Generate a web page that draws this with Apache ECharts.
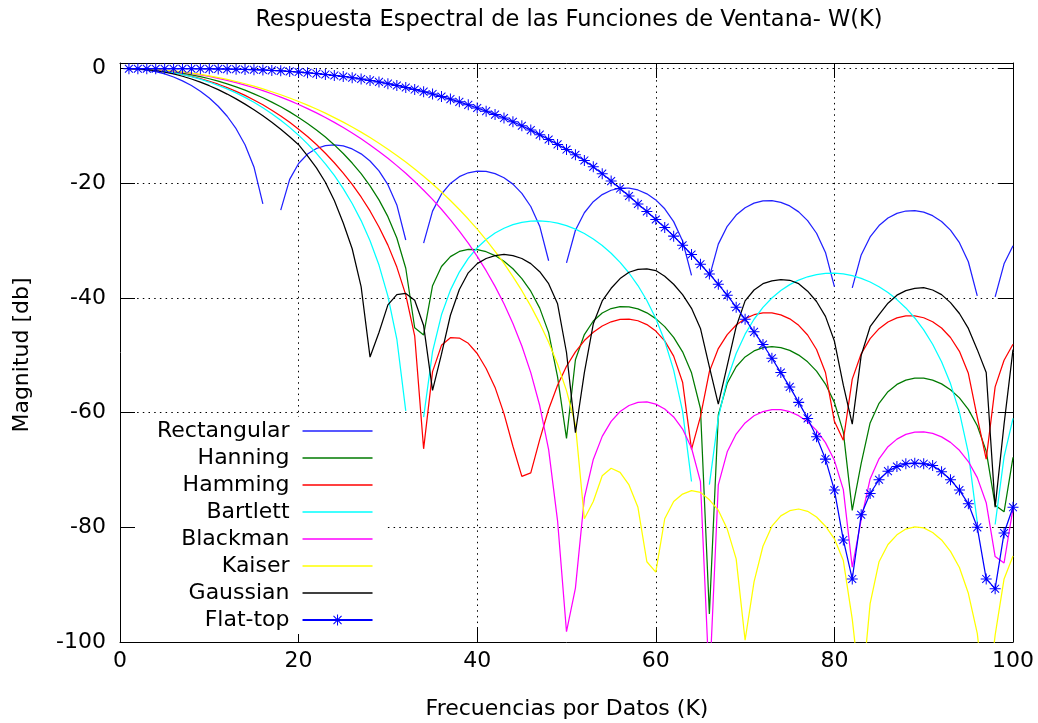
<!DOCTYPE html>
<html>
<head>
<meta charset="utf-8">
<script src="https://cdn.jsdelivr.net/npm/echarts@6/dist/echarts.min.js"></script>
<style>
  html, body { margin: 0; padding: 0; background: #fff; }
  #chart { width: 1038px; height: 723px; }
</style>
</head>
<body>
<div id="chart"></div>
<script>
// Frequency bins K (x axis)
const K = [
  1, 2, 3, 4, 5, 6, 7, 8, 9, 10,
  11, 12, 13, 14, 15, 16, 17, 18, 19, 20,
  21, 22, 23, 24, 25, 26, 27, 28, 29, 30,
  31, 32, 33, 34, 35, 36, 37, 38, 39, 40,
  41, 42, 43, 44, 45, 46, 47, 48, 49, 50,
  51, 52, 53, 54, 55, 56, 57, 58, 59, 60,
  61, 62, 63, 64, 65, 66, 67, 68, 69, 70,
  71, 72, 73, 74, 75, 76, 77, 78, 79, 80,
  81, 82, 83, 84, 85, 86, 87, 88, 89, 90,
  91, 92, 93, 94, 95, 96, 97, 98, 99, 100
];

// Magnitude in dB for each window (null = exact zero, not plotted)
const rectangular = [
  0, -0.06, -0.23, -0.51, -0.91, -1.44, -2.11, -2.93, -3.92, -5.12,
  -6.55, -8.29, -10.46, -13.25, -17.13, -23.58, null, -24.67, -19.31, -16.54,
  -14.89, -13.91, -13.40, -13.27, -13.47, -13.99, -14.85, -16.09, -17.81, -20.22,
  -23.75, -29.88, null, -30.43, -24.84, -21.85, -20.00, -18.83, -18.15, -17.85,
  -17.90, -18.29, -19.01, -20.13, -21.74, -24.03, -27.46, -33.50, null, -33.86,
  -28.18, -25.12, -23.19, -21.95, -21.20, -20.84, -20.83, -21.15, -21.82, -22.88,
  -24.43, -26.67, -30.05, -36.04, null, -36.31, -30.60, -27.49, -25.52, -24.24,
  -23.45, -23.06, -23.01, -23.30, -23.93, -24.97, -26.49, -28.70, -32.05, -38.01,
  null, -38.23, -32.48, -29.35, -27.36, -26.05, -25.24, -24.82, -24.75, -25.02,
  -25.63, -26.65, -28.15, -30.34, -33.67, -39.61, null, -39.79, -34.03, -30.88
];

const hanning = [
  0, -0.02, -0.08, -0.20, -0.34, -0.53, -0.78, -1.06, -1.38, -1.75,
  -2.17, -2.64, -3.17, -3.74, -4.38, -5.06, -5.82, -6.64, -7.53, -8.50,
  -9.55, -10.68, -11.92, -13.29, -14.79, -16.45, -18.31, -20.42, -22.87, -25.80,
  -29.53, -34.80, -45.18, -46.44, -37.85, -34.50, -32.77, -31.87, -31.50, -31.54,
  -31.92, -32.59, -33.58, -34.89, -36.60, -38.81, -41.76, -46.03, -53.76, -64.47,
  -50.76, -46.37, -44.00, -42.61, -41.83, -41.50, -41.55, -41.90, -42.58, -43.59,
  -44.99, -46.85, -49.39, -53.05, -59.27, -95.10, -60.40, -54.87, -51.99, -50.27,
  -49.22, -48.66, -48.48, -48.64, -49.13, -49.95, -51.13, -52.76, -55.00, -58.20,
  -63.39, -77.04, -68.83, -61.79, -58.37, -56.33, -55.07, -54.31, -53.97, -53.98,
  -54.31, -54.97, -55.99, -57.42, -59.42, -62.27, -66.70, -76.13, -77.29, -67.81
];

const hamming = [
  0, -0.03, -0.10, -0.25, -0.42, -0.66, -0.97, -1.32, -1.72, -2.18,
  -2.70, -3.29, -3.94, -4.65, -5.45, -6.29, -7.23, -8.25, -9.35, -10.54,
  -11.83, -13.22, -14.74, -16.40, -18.21, -20.18, -22.37, -24.81, -27.60, -30.77,
  -34.60, -39.45, -46.59, -66.30, -52.84, -48.25, -46.92, -46.98, -47.90, -49.67,
  -52.30, -55.59, -60.16, -65.85, -71.10, -70.50, -64.70, -59.40, -55.20, -51.90,
  -49.39, -47.42, -45.97, -44.87, -44.14, -43.74, -43.66, -43.96, -44.63, -45.77,
  -47.48, -50.14, -54.68, -66.40, -60.70, -52.84, -48.81, -46.37, -44.70, -43.60,
  -42.91, -42.58, -42.59, -42.93, -43.63, -44.76, -46.44, -48.97, -52.99, -61.50,
  -64.80, -54.15, -49.73, -47.08, -45.34, -44.18, -43.45, -43.11, -43.11, -43.44,
  -44.13, -45.23, -46.88, -49.29, -53.13, -60.80, -68.10, -55.50, -50.85, -48.07
];

const bartlett = [
  0, -0.03, -0.11, -0.25, -0.45, -0.70, -1.02, -1.39, -1.82, -2.32,
  -2.89, -3.52, -4.22, -5.00, -5.86, -6.81, -7.84, -8.98, -10.23, -11.59,
  -13.10, -14.75, -16.58, -18.62, -20.91, -23.50, -26.49, -30.00, -34.25, -39.66,
  -47.15, -59.68, null, -60.77, -49.33, -42.93, -38.62, -35.47, -33.08, -31.23,
  -29.78, -28.66, -27.82, -27.20, -26.79, -26.57, -26.53, -26.65, -26.93, -27.37,
  -27.98, -28.75, -29.70, -30.83, -32.18, -33.77, -35.63, -37.82, -40.43, -43.58,
  -47.49, -52.58, -59.77, -72.00, null, -72.54, -60.85, -54.21, -49.67, -46.30,
  -43.70, -41.63, -39.99, -38.68, -37.66, -36.86, -36.29, -35.90, -35.70, -35.67,
  -35.80, -36.10, -36.57, -37.21, -38.03, -39.04, -40.27, -41.73, -43.48, -45.56,
  -48.06, -51.11, -54.92, -59.91, -67.00, -79.13, null, -79.50, -67.72, -60.99
];

const blackman = [
  0, -0.01, -0.06, -0.16, -0.27, -0.41, -0.61, -0.82, -1.07, -1.35,
  -1.67, -2.02, -2.42, -2.85, -3.32, -3.81, -4.36, -4.95, -5.57, -6.24,
  -6.96, -7.70, -8.50, -9.36, -10.26, -11.21, -12.22, -13.29, -14.43, -15.62,
  -16.90, -18.23, -19.67, -21.19, -22.80, -24.51, -26.35, -28.32, -30.43, -32.73,
  -35.23, -37.96, -41.01, -44.43, -48.36, -53.01, -58.75, -66.43, -78.86, -98.20,
  -90.60, -74.87, -68.16, -64.13, -61.51, -59.79, -58.74, -58.20, -58.13, -58.51,
  -59.36, -60.74, -62.86, -66.16, -72.04, -107.6, -72.60, -66.82, -63.72, -61.78,
  -60.54, -59.81, -59.46, -59.47, -59.83, -60.52, -61.57, -63.09, -65.22, -68.31,
  -73.41, -86.96, -78.67, -71.55, -68.05, -65.94, -64.61, -63.78, -63.39, -63.33,
  -63.61, -64.22, -65.18, -66.56, -68.52, -71.32, -75.70, -85.10, -86.22, -76.69
];

const kaiser = [
  0, -0.02, -0.06, -0.14, -0.24, -0.38, -0.55, -0.75, -0.98, -1.25,
  -1.54, -1.87, -2.23, -2.62, -3.05, -3.51, -4.01, -4.54, -5.11, -5.71,
  -6.35, -7.03, -7.75, -8.52, -9.32, -10.17, -11.06, -12.00, -12.99, -14.03,
  -15.13, -16.28, -17.49, -18.76, -20.10, -21.51, -22.99, -24.56, -26.22, -27.98,
  -29.85, -31.84, -33.96, -36.25, -38.72, -41.41, -44.38, -47.73, -51.56, -56.15,
  -62.10, -78.50, -75.50, -71.00, -69.70, -70.40, -72.60, -76.50, -86.00, -87.80,
  -78.50, -75.50, -74.20, -73.60, -73.90, -75.20, -77.00, -80.30, -85.50, -99.70,
  -89.50, -83.30, -79.80, -78.00, -77.10, -76.80, -77.20, -78.20, -79.80, -82.00,
  -85.80, -96.00, -110.0, -93.30, -86.00, -83.00, -81.30, -80.30, -79.90, -80.10,
  -80.90, -82.20, -84.20, -87.00, -91.50, -98.50, -112.0, -98.80, -89.00, -85.00
];

const gaussian = [
  0, -0.04, -0.15, -0.33, -0.58, -0.91, -1.31, -1.79, -2.34, -2.96,
  -3.65, -4.42, -5.26, -6.17, -7.15, -8.21, -9.34, -10.55, -11.85, -13.25,
  -15.20, -17.30, -19.80, -23.00, -26.90, -31.40, -38.00, -50.30, -46.00, -41.20,
  -39.40, -39.20, -40.40, -44.80, -56.10, -49.80, -43.00, -38.50, -35.60, -34.00,
  -33.10, -32.60, -32.40, -32.60, -33.10, -34.00, -35.40, -37.50, -41.00, -49.50,
  -63.50, -53.00, -44.50, -40.50, -38.30, -36.60, -35.50, -35.00, -34.90, -35.20,
  -36.20, -37.60, -39.40, -41.80, -45.30, -52.00, -58.50, -51.80, -45.00, -40.50,
  -38.60, -37.50, -37.00, -36.80, -36.90, -37.50, -38.80, -40.60, -43.20, -47.50,
  -55.20, -62.00, -50.00, -45.00, -42.90, -40.90, -39.50, -38.70, -38.30, -38.20,
  -38.60, -39.40, -40.80, -42.70, -45.30, -49.00, -53.00, -76.50, -62.00, -49.00
];

const flatTop = [
  0, 0, 0, 0, 0, 0, 0, 0, -0.01, -0.02,
  -0.03, -0.06, -0.09, -0.13, -0.17, -0.22, -0.29, -0.37, -0.47, -0.58,
  -0.71, -0.85, -1.00, -1.17, -1.35, -1.56, -1.79, -2.04, -2.30, -2.60,
  -2.92, -3.27, -3.63, -4.00, -4.40, -4.85, -5.30, -5.78, -6.30, -6.85,
  -7.40, -8.00, -8.60, -9.25, -9.95, -10.70, -11.50, -12.35, -13.20, -14.10,
  -15.00, -16.00, -17.10, -18.30, -19.60, -20.90, -22.20, -23.60, -24.90, -26.30,
  -27.70, -29.20, -30.80, -32.40, -34.10, -35.80, -37.60, -39.50, -41.60, -43.70,
  -45.90, -48.10, -50.50, -53.00, -55.50, -58.20, -61.00, -64.20, -68.10, -73.50,
  -82.20, -89.00, -77.80, -74.10, -71.70, -70.20, -69.40, -68.90, -68.80, -68.90,
  -69.20, -70.30, -71.70, -73.50, -75.90, -80.00, -89.00, -90.70, -81.00, -76.50
];

const xTicks = [0, 20, 40, 60, 80, 100];
const yTicks = [-100, -80, -60, -40, -20, 0];

const FONT = '"DejaVu Sans", "Noto Sans", sans-serif';
const FS = 22;
const LW = 1.25;

// asterisk marker (vertical, horizontal and both diagonals)
const STAR = 'path://M-0.55,-6 L0.55,-6 L0.55,-1.33 L3.92,-4.7 L4.7,-3.92 L1.33,-0.55 L6,-0.55 L6,0.55 L1.33,0.55 L4.7,3.92 L3.92,4.7 L0.55,1.33 L0.55,6 L-0.55,6 L-0.55,1.33 L-3.92,4.7 L-4.7,3.92 L-1.33,0.55 L-6,0.55 L-6,-0.55 L-1.33,-0.55 L-4.7,-3.92 L-3.92,-4.7 L-0.55,-1.33 Z';
// plain line sample for the key
const LINE_ICON = 'path://M0,0 L70,0 L70,1.4 L0,1.4 Z';

function toPairs(values) {
  return K.map((k, i) => [k, values[i]]);
}

function windowLine(name, values, color, extra) {
  return Object.assign({
    name: name,
    type: 'line',
    data: toPairs(values),
    symbol: 'none',
    showSymbol: false,
    clip: true,
    connectNulls: false,
    lineStyle: { color: color, width: LW },
    itemStyle: { color: color },
    emphasis: { disabled: true },
    animation: false
  }, extra || {});
}

const series = [
  windowLine('Rectangular', rectangular, '#2020ff'),
  windowLine('Hanning', hanning, '#007a00'),
  windowLine('Hamming', hamming, '#ff0000'),
  windowLine('Bartlett', bartlett, '#00ffff'),
  windowLine('Blackman', blackman, '#ff00ff'),
  windowLine('Kaiser', kaiser, '#ffff00'),
  windowLine('Gaussian', gaussian, '#000000'),
  windowLine('Flat-top', flatTop, '#0000ff', {
    symbol: STAR,
    showSymbol: true,
    symbolSize: 11,
    itemStyle: { color: '#0000ff' }
  })
];

const gridDots = { type: [1.5, 4.2], color: '#000', width: 1 };
const frame = { show: true, onZero: false, lineStyle: { color: '#000', width: 1 } };
const ticks = { show: true, inside: true, length: 15, lineStyle: { color: '#000', width: 1 } };

const chart = echarts.init(document.getElementById('chart'), null, { renderer: 'canvas' });
chart.setOption({
  animation: false,
  backgroundColor: '#fff',
  grid: { left: 120, right: 25, top: 63, bottom: 81, containLabel: false },
  xAxis: [
    {
      type: 'value', position: 'bottom', min: xTicks[0], max: xTicks[xTicks.length - 1], interval: 20,
      axisLine: frame, axisTick: ticks,
      axisLabel: { color: '#000', fontSize: FS, fontFamily: FONT, margin: 8 },
      splitLine: { show: true, lineStyle: gridDots }
    },
    {
      type: 'value', position: 'top', min: xTicks[0], max: xTicks[xTicks.length - 1], interval: 20,
      axisLine: frame, axisTick: ticks, axisLabel: { show: false }, splitLine: { show: false }
    }
  ],
  yAxis: [
    {
      type: 'value', position: 'left', min: yTicks[0], max: 1, interval: 20,
      axisLine: frame, axisTick: ticks,
      axisLabel: { color: '#000', fontSize: FS, fontFamily: FONT, margin: 14, showMaxLabel: false },
      splitLine: { show: true, lineStyle: gridDots }
    },
    {
      type: 'value', position: 'right', min: yTicks[0], max: 1, interval: 20,
      axisLine: frame, axisTick: ticks, axisLabel: { show: false }, splitLine: { show: false }
    }
  ],
  legend: {
    orient: 'vertical',
    left: 137,
    top: 417,
    align: 'right',
    itemWidth: 70,
    itemHeight: 14,
    itemGap: 5,
    padding: [3, 12, 3, 20],
    backgroundColor: '#fff',
    selectedMode: false,
    textStyle: { color: '#000', fontSize: FS, fontFamily: FONT, lineHeight: 21, padding: [0, 8, 0, 0] },
    data: series.map(s => s.name === 'Flat-top' ? { name: s.name } : { name: s.name, icon: LINE_ICON })
  },
  graphic: [
    {
      type: 'text', x: 569, y: 20, silent: true,
      style: { text: 'Respuesta Espectral de las Funciones de Ventana- W(K)', font: '22.5px ' + FONT, fill: '#000', align: 'center', verticalAlign: 'middle' }
    },
    {
      type: 'text', x: 567, y: 709, silent: true,
      style: { text: 'Frecuencias por Datos (K)', font: FS + 'px ' + FONT, fill: '#000', align: 'center', verticalAlign: 'middle' }
    },
    {
      type: 'text', x: 22, y: 355, rotation: Math.PI / 2, silent: true,
      style: { text: 'Magnitud [db]', font: FS + 'px ' + FONT, fill: '#000', align: 'center', verticalAlign: 'middle' }
    }
  ],
  series: series
});
</script>
</body>
</html>
